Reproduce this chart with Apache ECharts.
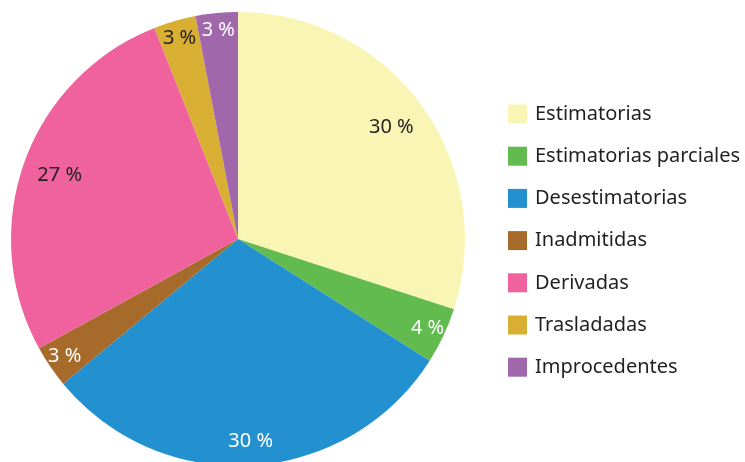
<!DOCTYPE html>
<html>
<head>
<meta charset="utf-8">
<script src="https://cdn.jsdelivr.net/npm/echarts@6/dist/echarts.min.js"></script>
<style>html,body{margin:0;padding:0;background:#fff}#c{width:745px;height:462px}</style>
</head>
<body>
<div id="c"></div>
<script>
const categories = ['Estimatorias', 'Estimatorias parciales', 'Desestimatorias', 'Inadmitidas', 'Derivadas', 'Trasladadas', 'Improcedentes'];
const values = [30, 4, 30, 3, 27, 3, 3];
const colors = ['#F9F6B5', '#62BB4F', '#2390CF', '#A66B2A', '#EF629D', '#D8AF32', '#A067AB'];
const labelColors = ['#231F20', '#FFFFFF', '#FFFFFF', '#FFFFFF', '#231F20', '#231F20', '#FFFFFF'];
// which label ring each slice's label sits on (0: inner, 1: middle, 2: outer)
const labelRing = [0, 2, 1, 2, 0, 2, 2];

const FONT = '"Noto Sans", "Open Sans", sans-serif';
const center = [238, 239];
const R = 227;
const ringInner = [146, 172, 186];

const baseData = categories.map((name, i) => ({
  name, value: values[i], itemStyle: { color: colors[i] }
}));

const series = [{
  type: 'pie',
  center, radius: [0, R],
  startAngle: 90,
  clockwise: true,
  silent: true,
  label: { show: false },
  labelLine: { show: false },
  data: baseData,
  itemStyle: { borderWidth: 0 }
}];

ringInner.forEach((r0, ring) => {
  series.push({
    type: 'pie',
    center, radius: [r0, R],
    startAngle: 90,
    clockwise: true,
    silent: true,
    legendHoverLink: false,
    labelLine: { show: false },
    itemStyle: { color: 'transparent', borderWidth: 0 },
    emphasis: { disabled: true },
    data: categories.map((name, i) => ({
      name, value: values[i],
      itemStyle: { color: 'transparent' },
      label: {
        show: labelRing[i] === ring,
        position: 'inside',
        color: labelColors[i],
        fontFamily: FONT,
        fontSize: 20,
        formatter: p => p.value + ' %'
      }
    }))
  });
});

const chart = echarts.init(document.getElementById('c'), null, { renderer: 'canvas' });
chart.setOption({
  backgroundColor: '#ffffff',
  animation: false,
  legend: {
    orient: 'vertical',
    left: 503,
    top: 99,
    itemWidth: 19,
    itemHeight: 19,
    itemGap: 22.2,
    icon: 'rect',
    data: categories,
    selectedMode: false,
    textStyle: { fontFamily: FONT, fontSize: 20, color: '#231F20', lineHeight: 19, padding: [0, 0, 0, 3] },
    itemStyle: { borderWidth: 0 }
  },
  series
});
</script>
</body>
</html>
